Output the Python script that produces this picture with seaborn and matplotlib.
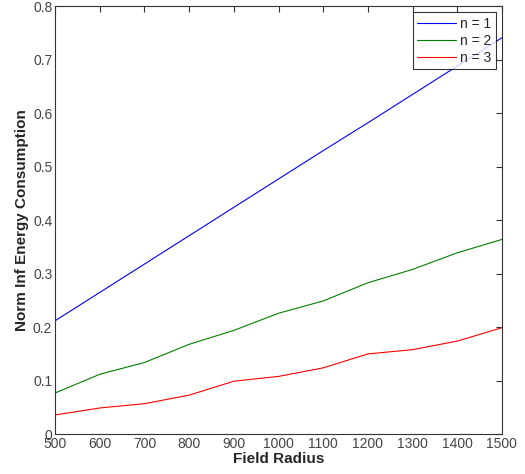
import matplotlib
matplotlib.use("Agg")
import matplotlib.pyplot as plt
import seaborn as sns
import pandas as pd

radius = [500, 600, 700, 800, 900, 1000, 1100, 1200, 1300, 1400, 1500]
n1 = [0.212, 0.265, 0.318, 0.371, 0.424, 0.477, 0.530, 0.582, 0.635, 0.688, 0.741]
n2 = [0.077, 0.112, 0.134, 0.168, 0.194, 0.226, 0.249, 0.283, 0.308, 0.339, 0.364]
n3 = [0.036, 0.049, 0.057, 0.073, 0.099, 0.108, 0.124, 0.150, 0.158, 0.174, 0.199]
labels = ["n = 1", "n = 2", "n = 3"]

df = pd.DataFrame({
    "Field Radius": radius * 3,
    "value": n1 + n2 + n3,
    "series": [labels[0]] * len(radius) + [labels[1]] * len(radius) + [labels[2]] * len(radius),
})

sns.set_style("white")
plt.rcParams["font.family"] = ["Liberation Sans", "DejaVu Sans"]

fig = plt.figure(figsize=(5.25, 4.74), dpi=100)
ax = fig.add_axes([0.105, 0.084, 0.851, 0.903])

palette = {labels[0]: "#0000ff", labels[1]: "#008000", labels[2]: "#ff0000"}
sns.lineplot(data=df, x="Field Radius", y="value", hue="series", palette=palette,
             linewidth=0.8, ax=ax)

ax.set_xlim(500, 1500)
ax.set_ylim(0, 0.8)
ax.set_xticks(radius)
ax.set_yticks([0, 0.1, 0.2, 0.3, 0.4, 0.5, 0.6, 0.7, 0.8])
ax.set_yticklabels(["0", "0.1", "0.2", "0.3", "0.4", "0.5", "0.6", "0.7", "0.8"])
ax.tick_params(direction="in", length=4, width=0.8, top=True, right=True,
               labelsize=10, colors="#333333", labelcolor="#444444", pad=2)
for s in ax.spines.values():
    s.set_visible(True)
    s.set_color("#333333")
    s.set_linewidth(0.8)

ax.set_xlabel("Field Radius", fontsize=11, fontweight="bold", labelpad=1)
ax.set_ylabel("Norm Inf Energy Consumption", fontsize=11, fontweight="bold", labelpad=3)

leg = ax.legend(loc="upper right", fontsize=10, frameon=True, fancybox=False,
                edgecolor="black", borderaxespad=0.45, handlelength=2.8,
                labelspacing=0.22, borderpad=0.3, handletextpad=0.3)
leg.get_frame().set_linewidth(0.8)

fig.savefig("out.png", dpi=100)
